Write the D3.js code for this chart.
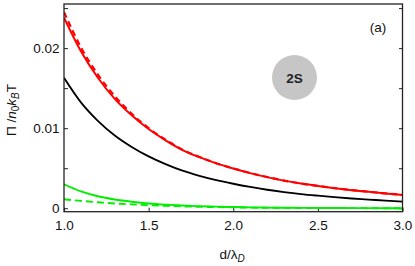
<html lang="en">
<head>
    <meta charset="utf-8">
    <title>Osmotic pressure 2S</title>
    <style>
        body {
            margin: 0;
            background: white;
        }

        svg text {
            font-family: "Liberation Sans", Arial, sans-serif;
        }

        .tick text {
            font-size: 13.5px;
            fill: #111;
        }

        .tick line {
            stroke: #222;
            stroke-width: 1;
        }
    </style>
</head>
<body>
<svg id="chart" width="415" height="266"></svg>
<script src="https://d3js.org/d3.v7.min.js"></script>
<script>
    const dValues = [1.0, 1.1, 1.2, 1.3, 1.4, 1.5, 1.6, 1.7, 1.8, 1.9, 2.0,
        2.1, 2.2, 2.3, 2.4, 2.5, 2.6, 2.7, 2.8, 2.9, 3.0];
    const redSolid = [0.0238, 0.0196, 0.0163, 0.01367, 0.01161, 0.00989, 0.00848, 0.00727, 0.00638, 0.00561, 0.00497,
        0.00439, 0.00389, 0.00345, 0.00308, 0.00278, 0.0025, 0.00226, 0.00205, 0.00184, 0.00166];
    const redDashed = [0.0245, 0.0201, 0.0167, 0.0140, 0.0118, 0.0100, 0.00855, 0.00732, 0.0064, 0.00562, 0.00498,
        0.0044, 0.0039, 0.00346, 0.00309, 0.00279, 0.00251, 0.00227, 0.00206, 0.00185, 0.00167];
    const blackSolid = [0.0163, 0.01323, 0.01092, 0.00909, 0.00766, 0.00648, 0.00551, 0.00469, 0.00405, 0.00351, 0.00306,
        0.00266, 0.00231, 0.00202, 0.00177, 0.00157, 0.00139, 0.00122, 0.00109, 0.00095, 0.00083];
    const greenSolid = [0.0030, 0.0021, 0.0015, 0.0011, 0.00082, 0.0006, 0.00045, 0.00034, 0.00026, 0.0002, 0.00015,
        0.00011, 0.00008, 0.00006, 0.00005, 0.00004, 0.00003, 0.00002, 0.00002, 0.00001, 0.00001];
    const greenDashed = [0.00112, 0.00092, 0.00075, 0.0006, 0.00048, 0.00038, 0.0003, 0.00023, 0.00018, 0.00014, 0.00011,
        0.00008, 0.00006, 0.00005, 0.00004, 0.00003, 0.00002, 0.00002, 0.00001, 0.00001, 0.00001];

    const xTicks = [1.0, 1.5, 2.0, 2.5, 3.0];
    const yTicks = [0, 0.005, 0.01, 0.015, 0.02, 0.025];
    const yLabels = {"0": "0", "0.01": "0.01", "0.02": "0.02"};

    const series = [
        {values: blackSolid, color: "#000", dash: null, width: 1.8},
        {values: greenDashed, color: "#00ee00", dash: "7,4", width: 1.9},
        {values: greenSolid, color: "#00ee00", dash: null, width: 1.9},
        {values: redSolid, color: "#ff0000", dash: null, width: 2},
        {values: redDashed, color: "#ff0000", dash: "6,4", width: 2.2}
    ];

    const svg = d3.select("#chart");
    const plotLeft = 64, plotRight = 402.5, plotTop = 4, plotBottom = 211.7;

    const x = d3.scaleLinear().domain([1, 3]).range([plotLeft, plotRight]);
    const y = d3.scaleLinear().domain([-0.00043, 0.02551]).range([plotBottom, plotTop]);

    svg.append("g")
        .attr("transform", `translate(0,${plotBottom})`)
        .call(d3.axisBottom(x).tickValues(xTicks).tickSize(-4).tickPadding(8.5).tickFormat(d3.format(".1f")))
        .call(g => g.select(".domain").remove());

    svg.append("g")
        .attr("transform", `translate(${plotLeft},0)`)
        .call(d3.axisLeft(y).tickValues(yTicks).tickSize(-4).tickPadding(4.5)
            .tickFormat(d => yLabels[String(d)] || ""))
        .call(g => g.select(".domain").remove());

    svg.append("g")
        .attr("transform", `translate(${plotRight},0)`)
        .call(d3.axisRight(y).tickValues(yTicks).tickSize(-3.5).tickFormat(""))
        .call(g => g.select(".domain").remove());

    const plot = svg.append("g");
    const line = d3.line()
        .x((d, i) => x(dValues[i]))
        .y(d => y(d))
        .curve(d3.curveMonotoneX);

    plot.append("defs").append("clipPath").attr("id", "clip")
        .append("rect").attr("x", plotLeft).attr("y", plotTop)
        .attr("width", plotRight - plotLeft).attr("height", plotBottom - plotTop);

    plot.selectAll("path.curve")
        .data(series)
        .join("path")
        .attr("class", "curve")
        .attr("clip-path", "url(#clip)")
        .attr("d", d => line(d.values))
        .attr("fill", "none")
        .attr("stroke", d => d.color)
        .attr("stroke-width", d => d.width)
        .attr("stroke-dasharray", d => d.dash);

    svg.append("rect")
        .attr("x", plotLeft).attr("y", plotTop)
        .attr("width", plotRight - plotLeft).attr("height", plotBottom - plotTop)
        .attr("fill", "none").attr("stroke", "#222").attr("stroke-width", 1.3);

    // inset marker
    svg.append("circle").attr("cx", 294.5).attr("cy", 77.5).attr("r", 22.5).attr("fill", "#c6c6c6");
    svg.append("text").attr("x", 294.5).attr("y", 82.5).attr("text-anchor", "middle")
        .style("font-size", "13.5px").style("font-weight", "bold").attr("fill", "#222").text("2S");

    svg.append("text").attr("x", 378).attr("y", 31.5).attr("text-anchor", "middle")
        .style("font-size", "13.5px").attr("fill", "#111").text("(a)");

    // axis labels
    const xl = svg.append("text").attr("x", 232).attr("y", 259).attr("text-anchor", "middle")
        .style("font-size", "13.5px").attr("fill", "#111");
    xl.append("tspan").text("d/λ");
    xl.append("tspan").attr("dy", 3).style("font-size", "10px").style("font-style", "italic").text("D");

    const yl = svg.append("text").attr("transform", "translate(16,110) rotate(-90)").attr("text-anchor", "middle")
        .style("font-size", "13.5px").attr("fill", "#111");
    yl.append("tspan").text("Π /");
    yl.append("tspan").style("font-style", "italic").text("n");
    yl.append("tspan").attr("dy", 3).style("font-size", "10px").text("0");
    yl.append("tspan").attr("dy", -3).style("font-style", "italic").text("k");
    yl.append("tspan").attr("dy", 3).style("font-size", "10px").style("font-style", "italic").text("B");
    yl.append("tspan").attr("dy", -3).text("T");
</script>
</body>
</html>
